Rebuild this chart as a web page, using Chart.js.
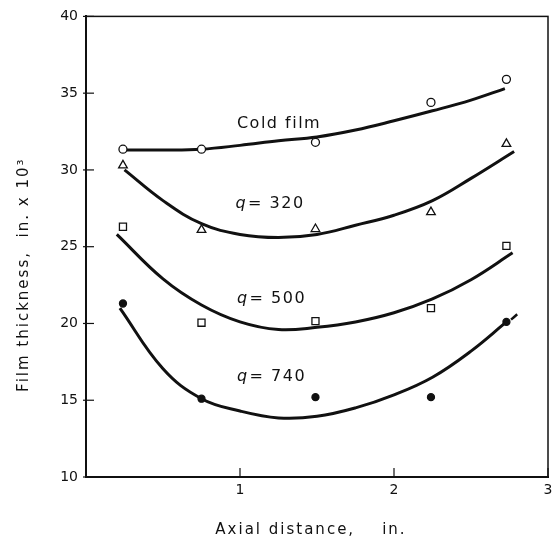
<!DOCTYPE html>
<html>
<head>
<meta charset="utf-8">
<script src="https://cdn.jsdelivr.net/npm/chart.js@4.4.0/dist/chart.umd.min.js"></script>
<style>
  html, body { margin: 0; padding: 0; background: #fff; }
</style>
</head>
<body>
<canvas id="chart" width="558" height="539"></canvas>
<script>
// measured points, axial distance in inches
var pointX = [0.24, 0.75, 1.49, 2.24, 2.73];
var coldPts = [31.35, 31.35, 31.8, 34.4, 35.9];
var q320Pts = [30.3, 26.1, 26.15, 27.25, 31.7];
var q500Pts = [26.3, 20.05, 20.15, 21.0, 25.05];
var q740Pts = [21.3, 15.1, 15.2, 15.2, 20.1];

// faired curves
var coldCurveX = [0.24, 0.5, 0.75, 1.0, 1.25, 1.5, 1.75, 2.0, 2.25, 2.5, 2.72];
var coldCurveY = [31.3, 31.3, 31.35, 31.6, 31.9, 32.15, 32.6, 33.2, 33.85, 34.55, 35.3];
var q320CurveX = [0.25, 0.5, 0.75, 1.0, 1.25, 1.5, 1.75, 2.0, 2.25, 2.5, 2.78];
var q320CurveY = [30.0, 28.0, 26.5, 25.8, 25.6, 25.8, 26.4, 27.05, 28.0, 29.45, 31.2];
var q500CurveX = [0.2, 0.5, 0.75, 1.0, 1.25, 1.5, 1.75, 2.0, 2.25, 2.5, 2.77];
var q500CurveY = [25.8, 22.9, 21.2, 20.1, 19.6, 19.75, 20.1, 20.7, 21.6, 22.85, 24.6];
var q740CurveX = [0.22, 0.5, 0.75, 1.0, 1.25, 1.5, 1.75, 2.0, 2.25, 2.5, 2.73];
var q740CurveY = [21.0, 17.05, 15.1, 14.3, 13.85, 13.95, 14.5, 15.35, 16.5, 18.2, 20.1];
var q740DashX = [2.76, 2.8];
var q740DashY = [20.25, 20.6];

var xTicks = [1, 2, 3];
var yTicks = [10, 15, 20, 25, 30, 35, 40];

var ink = "#111";
var textFont = '16px "DejaVu Sans"';

function xy(xs, ys) {
  return xs.map(function (x, i) {
    return { x: x, y: ys[i] };
  });
}

function marks(data, style, radius, fill) {
  return {
    data: data,
    showLine: false,
    pointStyle: style,
    pointRadius: radius,
    backgroundColor: fill,
    borderColor: ink,
    borderWidth: 1.3,
  };
}

function curve(data, width) {
  return {
    data: data,
    showLine: true,
    pointRadius: 0,
    borderColor: ink,
    borderWidth: width,
    tension: 0.4,
    fill: false,
  };
}

// frame, inward ticks and the hand lettering
var paperPlugin = {
  id: "paper",
  afterDraw: function (chart) {
    var ctx = chart.ctx;
    var a = chart.chartArea;
    var xs = chart.scales.x;
    var ys = chart.scales.y;
    ctx.save();
    ctx.strokeStyle = ink;
    ctx.lineWidth = 1.5;
    ctx.strokeRect(a.left, a.top, a.right - a.left, a.bottom - a.top);

    ctx.lineWidth = 1.2;
    ys.ticks.forEach(function (t) {
      var y = ys.getPixelForValue(t.value);
      ctx.beginPath();
      ctx.moveTo(a.left - 3, y);
      ctx.lineTo(a.left + 8, y);
      ctx.stroke();
    });
    xs.ticks.forEach(function (t) {
      var x = xs.getPixelForValue(t.value);
      ctx.beginPath();
      ctx.moveTo(x, a.bottom);
      ctx.lineTo(x, a.bottom - 9);
      ctx.stroke();
    });

    ctx.fillStyle = ink;
    ctx.letterSpacing = "1.5px";
    ctx.font = textFont;
    ctx.textBaseline = "middle";
    ctx.textAlign = "left";
    ctx.fillText("Cold film", xs.getPixelForValue(0.98), ys.getPixelForValue(33.0));

    function qLabel(text, xv, yv) {
      var x = xs.getPixelForValue(xv);
      var y = ys.getPixelForValue(yv);
      ctx.font = 'italic 16px "DejaVu Sans"';
      ctx.fillText("q", x, y);
      x += ctx.measureText("q").width + 1;
      ctx.font = textFont;
      ctx.fillText("= " + text, x, y);
    }
    qLabel("320", 0.97, 27.8);
    qLabel("500", 0.98, 21.63);
    qLabel("740", 0.98, 16.5);

    ctx.font = '15px "DejaVu Sans"';
    ctx.letterSpacing = "2px";
    ctx.textAlign = "center";
    ctx.fillText("Axial distance,    in.", (a.left + a.right) / 2 - 6, a.bottom + 53);

    ctx.translate(a.left - 62, (a.top + a.bottom) / 2 + 28);
    ctx.rotate(-Math.PI / 2);
    ctx.fillText("Film thickness,  in. x 10\u00b3", 0, 0);
    ctx.restore();
  },
};

var config = {
  type: "scatter",
  data: {
    datasets: [
      marks(xy(pointX, coldPts), "circle", 4, "#fff"),
      marks(xy(pointX, q320Pts), "triangle", 5, "#fff"),
      marks(xy(pointX, q500Pts), "rect", 5, "#fff"),
      marks(xy(pointX, q740Pts), "circle", 3.5, ink),
      curve(xy(coldCurveX, coldCurveY), 3),
      curve(xy(q320CurveX, q320CurveY), 3),
      curve(xy(q500CurveX, q500CurveY), 3),
      curve(xy(q740CurveX, q740CurveY), 3),
      curve(xy(q740DashX, q740DashY), 2.5),
    ],
  },
  options: {
    responsive: false,
    animation: false,
    layout: { padding: { top: 10, right: 10, left: 0, bottom: 0 } },
    plugins: {
      legend: { display: false },
      tooltip: { enabled: false },
    },
    scales: {
      x: {
        type: "linear",
        min: 0,
        max: 3,
        afterBuildTicks: function (axis) {
          axis.ticks = xTicks.map(function (v) { return { value: v }; });
        },
        afterFit: function (axis) {
          axis.height = 62;
        },
        ticks: { color: ink, font: { family: "DejaVu Sans", size: 14 }, padding: 5 },
        grid: { display: false, drawTicks: false },
        border: { display: true, color: ink, width: 2 },
      },
      y: {
        min: 10,
        max: 40,
        afterBuildTicks: function (axis) {
          axis.ticks = yTicks.map(function (v) { return { value: v }; });
        },
        afterFit: function (axis) {
          axis.width = 86;
        },
        ticks: { color: ink, font: { family: "DejaVu Sans", size: 14 }, padding: 8 },
        grid: { display: false, drawTicks: false },
        border: { display: true, color: ink, width: 2 },
      },
    },
  },
  plugins: [paperPlugin],
};

var myChart = new Chart(document.getElementById("chart"), config);
</script>
</body>
</html>
